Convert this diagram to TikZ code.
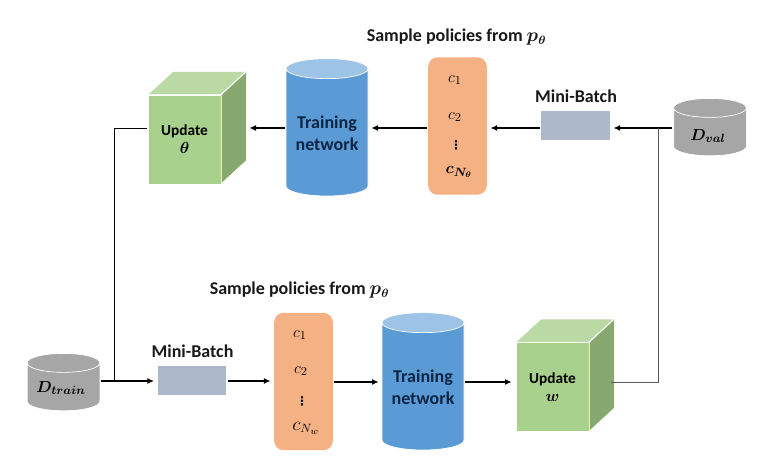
\documentclass[tikz,border=0pt]{standalone}
\usepackage{fontspec}
\usepackage{amsmath}
\usepackage{bm}
\setmainfont{Carlito}
\newfontfamily\symbolfont{DejaVu Sans}
\usetikzlibrary{arrows.meta}
\usetikzlibrary{shapes.geometric}
\definecolor{cubefront}{HTML}{A9D18E}
\definecolor{cubetop}{HTML}{BAD9A5}
\definecolor{cubeside}{HTML}{87A86F}
\definecolor{netbody}{HTML}{5B9BD5}
\definecolor{nettop}{HTML}{9DC3E6}
\definecolor{policy}{HTML}{F4B183}
\definecolor{batch}{HTML}{ADB9CA}
\definecolor{datagray}{HTML}{A6A6A6}
\definecolor{netink}{HTML}{0B2545}
\tikzset{
      front/.style={rectangle, fill=cubefront, draw=white, line width=0.5, inner sep=0,
            minimum width=54.75pt, minimum height=66.75pt, align=center,
            font=\bfseries\fontsize{11.5}{13.5}\selectfont},
      network/.style={cylinder, shape border rotate=90, aspect=1.5, draw=white, line width=0.5,
            cylinder uses custom fill, cylinder body fill=netbody, cylinder end fill=nettop,
            inner sep=0, outer sep=0, minimum width=61.5pt, minimum height=103pt},
      nettext/.style={align=center, text=netink, font=\bfseries\fontsize{13.5}{16.5}\selectfont},
      dataset/.style={cylinder, shape border rotate=90, aspect=1.42, draw=white, line width=0.5,
            cylinder uses custom fill, cylinder body fill=datagray, cylinder end fill=datagray,
            inner sep=0, outer sep=0, minimum width=54.5pt, minimum height=43pt},
      datatext/.style={font=\fontsize{13}{13}\selectfont},
      policies/.style={rectangle, rounded corners=7pt, fill=policy, inner sep=0,
            minimum width=44pt, minimum height=103pt},
      minibatch/.style={rectangle, fill=batch, inner sep=0, minimum width=51.5pt, minimum height=22pt},
      caption/.style={font=\bfseries\fontsize{13.5}{15}\selectfont, text=black!90},
      entry/.style={font=\fontsize{12.5}{14}\selectfont},
      vdotsmark/.style={font=\symbolfont\bfseries\fontsize{9}{9}\selectfont},
      link/.style={-{Latex[length=5pt,width=4.5pt]}, line width=1.1pt, shorten >=2.5pt, shorten <=1pt},
      feedback/.style={line width=0.65pt},
}
% the end radius of a cylinder follows its text, so give each the same empty box
\newcommand{\cylbox}{\rule{0pt}{5pt}\rule[-5pt]{10pt}{0pt}}
% front face is the node, the other two faces hang on its corners
\newcommand{\cubefaces}[1]{
      \fill[cubetop, draw=white, line width=0.5] (#1.north west) -- ++(25,-23) -- ++(73,0) -- ++(-25,23) -- cycle;
      \fill[cubeside, draw=white, line width=0.5] (#1.north east) -- ++(25,-23) -- ++(0,89) -- ++(-25,23) -- cycle;
}
\begin{document}
\begin{tikzpicture}[x=0.75pt,y=-0.75pt]
        \useasboundingbox (0,0) rectangle (768,473);

        % Draw the upper row
        \node[dataset] (dval) at (710,132) {\cylbox};
        \node[datatext] (dvaltext) at (708,136) {$\bm{D_{val}}$};
        \node[minibatch] (batchval) at (575.5,125.5) {};
        \node[caption] (batchvaltext) at (576,96) {Mini-Batch};
        \node[policies] (ctheta) at (457.5,126) {};
        \node[entry] (cthetaone) at (455,80) {$c_1$};
        \node[entry] (cthetatwo) at (455,117) {$c_2$};
        \node[vdotsmark] (cthetadots) at (456,145) {⋮};
        \node[entry] (cthetalast) at (459,172) {\fontsize{13}{13}\selectfont$\bm{c_{N_\theta}}$};
        \node[caption] (sampletheta) at (456.5,37) {Sample policies from $\bm{p_\theta}$};
        \node[network] (nettheta) at (327,132.5) {\cylbox};
        \node[nettext] (netthetatext) at (327,133) {Training\\network};
        \node[front] (updatetheta) at (184.5,139.5) {Update\\$\bm{\theta}$};
        \cubefaces{updatetheta}

        % Draw the lower row
        \node[dataset] (dtrain) at (63.5,387) {\cylbox};
        \node[datatext] (dtraintext) at (61,388) {$\bm{D_{train}}$};
        \node[minibatch] (batchtrain) at (192,380.5) {};
        \node[caption] (batchtraintext) at (192.5,351) {Mini-Batch};
        \node[policies] (cw) at (303.5,381.5) {};
        \node[entry] (cwone) at (300,335) {$c_1$};
        \node[entry] (cwtwo) at (301,371) {$c_2$};
        \node[vdotsmark] (cwdots) at (302,401) {⋮};
        \node[entry] (cwlast) at (306,428) {\fontsize{13.5}{13.5}\selectfont$c_{N_w}$};
        \node[caption] (samplew) at (299.5,290) {Sample policies from $\bm{p_\theta}$};
        \node[network] (netw) at (423,386.5) {\cylbox};
        \node[nettext] (netwtext) at (423,387) {Training\\network};
        \node[front] (updatew) at (552.5,387) {Update\\$\bm{w}$};
        \cubefaces{updatew}

        \coordinate (updatethetaleft) at (147,128);
        \coordinate (updatewright) at (611,382);
        \coordinate (thetaarrow) at (246,128);
        \coordinate (warrow) at (515,382);
        \coordinate (trainjoin) at (114,381);
        \coordinate (valjoin) at (658,128);

        % Draw the arrows
        \draw[link] (dval.west |- valjoin) -- (batchval.east |- valjoin);
        \draw[link] (batchval.west |- valjoin) -- (ctheta.east |- valjoin);
        \draw[link] (ctheta.west |- valjoin) -- (nettheta.east |- valjoin);
        \draw[link] (nettheta.west |- valjoin) -- (thetaarrow);
        \draw[link] (dtrain.east |- trainjoin) -- (batchtrain.west |- trainjoin);
        \draw[link] (batchtrain.east |- trainjoin) -- (cw.west |- trainjoin);
        \draw[link] (cw.east |- warrow) -- (netw.west |- warrow);
        \draw[link] (netw.east |- warrow) -- (warrow);

        % Draw the feedback lines
        \draw[feedback] (updatethetaleft) -| (trainjoin);
        \draw[feedback, draw=black!65] (updatewright) -- (updatewright -| valjoin) -- (valjoin);
    \end{tikzpicture}
\end{document}
